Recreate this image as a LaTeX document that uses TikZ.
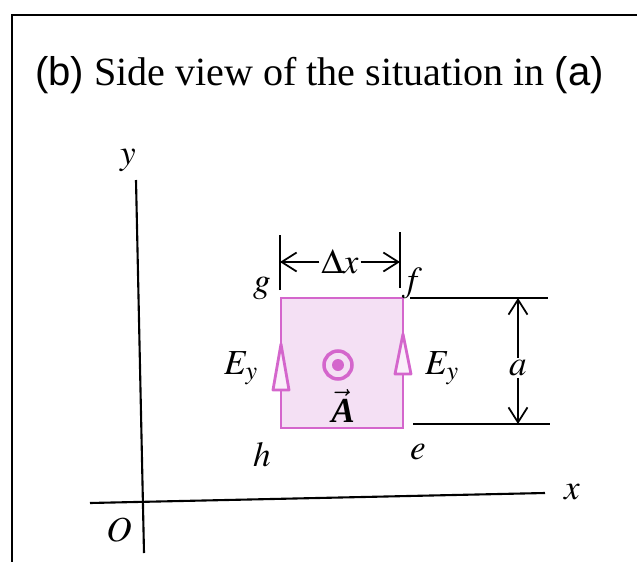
\documentclass[tikz,border=0pt]{standalone}
\usepackage{mathptmx}
\usepackage{fontspec}
\setmainfont{Liberation Serif}
\newfontfamily\partfont{Liberation Sans}
\usepackage{tikz}
\usetikzlibrary{arrows.meta}
\definecolor{boxpink}{RGB}{244,224,244}
\definecolor{edgepink}{RGB}{212,102,204}
\tikzset{
  frame/.style={
    line width=1pt,
    black
  },
  axis/.style={
    line width=1.2pt,
    black
  },
  dimline/.style={
    line width=1pt,
    black
  },
  dimarrow/.style={
    line width=1pt,
    -{Straight Barb[length=3mm,width=3.8mm]}
  },
  loopedge/.style={
    line width=1.6pt,
    draw=edgepink,
    fill=boxpink
  },
  fieldhead/.style={
    line width=1.6pt,
    draw=edgepink,
    fill=white!50!boxpink,
    line join=round
  },
  lbl/.style={
    font=\fontsize{20}{22}\selectfont,
    inner sep=1pt
  },
  titletext/.style={
    font=\fontsize{22.8}{25}\selectfont,
    anchor=west,
    inner sep=0pt
  }
}
\begin{document}
\begin{tikzpicture}[x=0.02cm,y=-0.02cm]
    \useasboundingbox (0,0) rectangle (637,562);
    \draw[frame] (637,15) -- (12,15) -- (12,562);
    \node[titletext] (title) at (35,75) {{\partfont (b)} Side view of the situation in {\partfont (a)}};

    % axes
    \coordinate (ytop) at (136,180);
    \coordinate (ybot) at (144,553);
    \coordinate (xleft) at (90,503);
    \coordinate (xright) at (545,493);
    \draw[axis] (ybot) -- (ytop);
    \draw[axis] (xleft) -- (xright);
    \node[lbl] (ylab) at (128,160) {$y$};
    \node[lbl] (xlab) at (572,492) {$x$};
    \node[lbl] (olab) at (119,530) {$O$};

    % the loop
    \coordinate (h) at (281,428);
    \coordinate (e) at (403,428);
    \coordinate (f) at (403,298);
    \coordinate (g) at (281,298);
    \draw[loopedge] (h) -- (e) -- (f) -- (g) -- cycle;
    \node[lbl] (glab) at (262,288) {$g$};
    \node[lbl] (flab) at (412,283) {$f$};
    \node[lbl] (hlab) at (262,455) {$h$};
    \node[lbl] (elab) at (418,452) {$e$};

    % field arrows
    \draw[fieldhead] (281,344) -- (289,390) -- (273,390) -- cycle;
    \draw[fieldhead] (403,334) -- (411,374) -- (395,374) -- cycle;
    \node[lbl] (eyleft) at (241,368) {$E_y$};
    \node[lbl] (eyright) at (442,368) {$E_y$};

    % area vector
    \node[shape=circle, draw=edgepink, line width=2pt, minimum size=0.56cm, inner sep=0pt] (aring) at (338,365) {};
    \fill[edgepink] (aring.center) circle (0.12cm);
    \node[lbl] (alab) at (343,406) {$\vec{\mbox{\bfseries\itshape A}}$};

    % width
    \coordinate (gtick1) at (280,290);
    \coordinate (gtick2) at (280,235);
    \coordinate (ftick1) at (400,288);
    \coordinate (ftick2) at (400,232);
    \draw[dimline] (gtick1) -- (gtick2);
    \draw[dimline] (ftick1) -- (ftick2);
    \node[lbl] (dx) at (340,262) {$\Delta x$};
    \draw[dimarrow] (dx.west) -- (280,262);
    \draw[dimarrow] (dx.east) -- (400,262);

    % height
    \coordinate (toplft) at (410,298);
    \coordinate (toprgt) at (548,298);
    \coordinate (botlft) at (413,424);
    \coordinate (botrgt) at (550,424);
    \draw[dimline] (toplft) -- (toprgt);
    \draw[dimline] (botlft) -- (botrgt);
    \node[lbl] (ahgt) at (518,368) {$a$};
    \draw[dimarrow] (ahgt.north) -- (518,298);
    \draw[dimarrow] (ahgt.south) -- (518,424);
\end{tikzpicture}
\end{document}
